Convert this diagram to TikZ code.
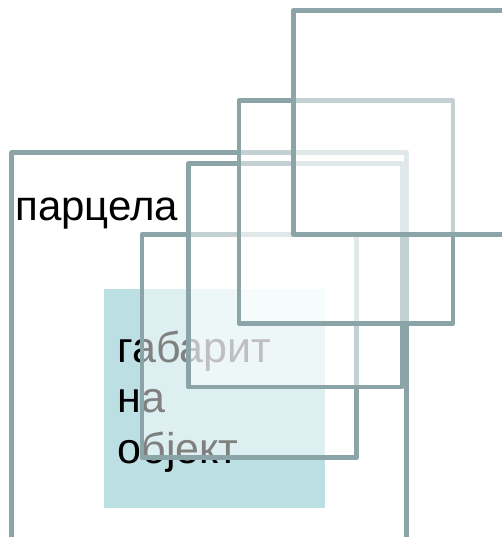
\documentclass[tikz,border=0pt]{standalone}
\usepackage{fontspec}
\setmainfont{Liberation Sans}
\definecolor{linec}{HTML}{8AA4A7}
\definecolor{tealbox}{HTML}{BBDFE2}
\begin{document}
\begin{tikzpicture}[x=1pt,y=-1pt,
  frame/.style={draw=linec, line width=4.6pt, line join=round, fill=white, fill opacity=0.5, draw opacity=1},
  lbl/.style={inner sep=0pt, outer sep=0pt, anchor=base west, font=\fontsize{42}{50.5}\selectfont, text=black}]
\useasboundingbox (0,0) rectangle (502,537);
\clip (0,0) rectangle (502,537);
% parcela (bottom layer)
\draw[draw=linec, line width=4.6pt, line join=round] (11.7,152.7) rectangle (406.5,580);
\node[lbl] (parcela) at (15.3,220) {парцела};
% building footprint box
\fill[tealbox] (104,289) rectangle (325,508);
\node[lbl, align=left, font=\fontsize{43}{50.5}\selectfont] (gabarit) at (117.5,463) {габарит\\на\\објект};
% stacked frames
\draw[frame] (142,234.5) rectangle (356.5,457.5);
\draw[frame] (188.5,163.3) rectangle (402,387);
\draw[frame] (239,100.5) rectangle (453,323.5);
\draw[frame] (293.5,10.5) rectangle (580,234.5);
\end{tikzpicture}
\end{document}
